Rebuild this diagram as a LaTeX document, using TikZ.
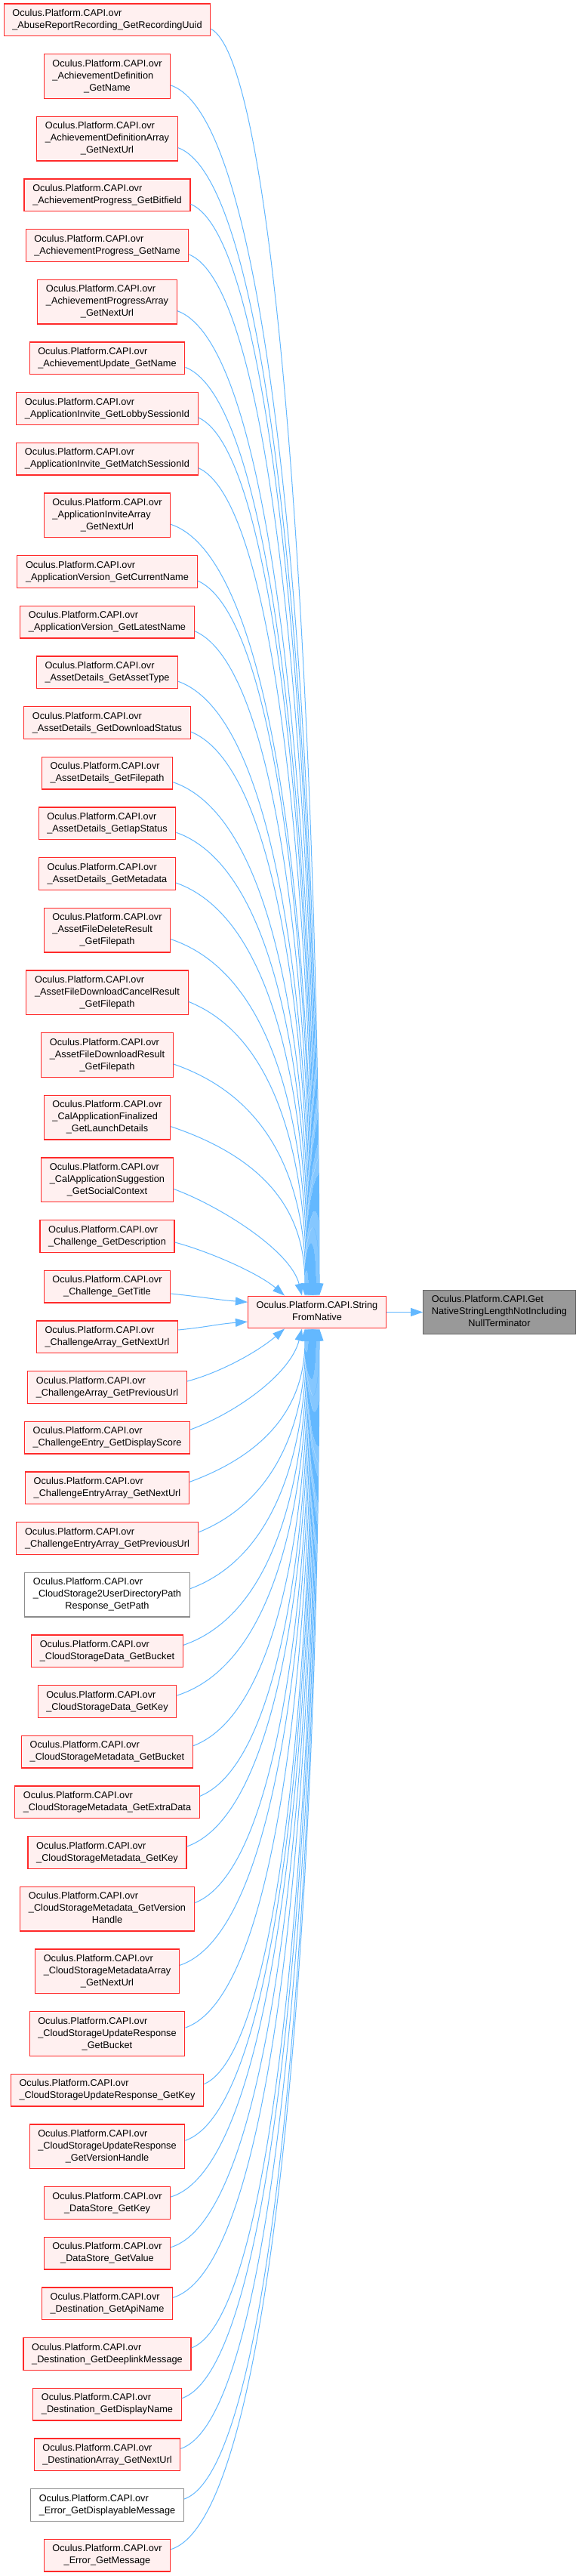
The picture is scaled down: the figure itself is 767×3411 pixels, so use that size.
\documentclass[tikz,border=0pt]{standalone}
\usepackage{fontspec}
\setmainfont{Liberation Sans}
\usetikzlibrary{arrows.meta,calc}
\definecolor{edgeblue}{HTML}{63B8FF}
\definecolor{nodefill}{HTML}{FFF0F0}
\definecolor{nodered}{HTML}{FF2A2A}
\definecolor{nodegrey}{HTML}{8C8C8C}
\definecolor{rootfill}{HTML}{999999}
\definecolor{rootline}{HTML}{666666}
\newcommand\twol[2]{\begin{tabular}{@{}l@{}}#1\\\multicolumn{1}{@{}c@{}}{#2}\end{tabular}}
\newcommand\threel[3]{\begin{tabular}{@{}l@{}}#1\\#2\\\multicolumn{1}{@{}c@{}}{#3}\end{tabular}}
\newcommand\ocp{Oculus.Platform.CAPI.ovr}
\begin{document}
\begin{tikzpicture}[x=0.75pt,y=-0.75pt,
  box/.style={draw=nodered, fill=nodefill, line width=0.9pt, inner xsep=8.4pt, inner ysep=4pt,
    font={\fontsize{9.55pt}{12pt}\selectfont}},
  greybox/.style={box, draw=nodegrey, fill=white},
  rootbox/.style={box, draw=rootline, fill=rootfill},
  edge/.style={draw=edgeblue, line width=0.75pt, -{Triangle[length=12pt,width=8.2pt]}}]
\useasboundingbox (0,0) rectangle (767,3411);
\fill[white] (0,0) rectangle (767,3411);

\node[box] (m) at (420,1737.5) {\twol{Oculus.Platform.CAPI.String}{FromNative}};
\node[rootbox] (g) at (661.5,1737.5) {\threel{Oculus.Platform.CAPI.Get}{NativeStringLengthNotIncluding}{NullTerminator}};

\node[box] (n1) at (142,26.33) {\twol{\ocp}{\_AbuseReportRecording\_GetRecordingUuid}};
\node[box] (n2) at (142,101) {\threel{\ocp}{\_AchievementDefinition}{\_GetName}};
\node[box] (n3) at (142,183.67) {\threel{\ocp}{\_AchievementDefinitionArray}{\_GetNextUrl}};
\node[box] (n4) at (142,258.33) {\twol{\ocp}{\_AchievementProgress\_GetBitfield}};
\node[box] (n5) at (142,325) {\twol{\ocp}{\_AchievementProgress\_GetName}};
\node[box] (n6) at (142,399.67) {\threel{\ocp}{\_AchievementProgressArray}{\_GetNextUrl}};
\node[box] (n7) at (142,474.33) {\twol{\ocp}{\_AchievementUpdate\_GetName}};
\node[box] (n8) at (142,541) {\twol{\ocp}{\_ApplicationInvite\_GetLobbySessionId}};
\node[box] (n9) at (142,607.67) {\twol{\ocp}{\_ApplicationInvite\_GetMatchSessionId}};
\node[box] (n10) at (142,682.33) {\threel{\ocp}{\_ApplicationInviteArray}{\_GetNextUrl}};
\node[box] (n11) at (142,757) {\twol{\ocp}{\_ApplicationVersion\_GetCurrentName}};
\node[box] (n12) at (142,823.67) {\twol{\ocp}{\_ApplicationVersion\_GetLatestName}};
\node[box] (n13) at (142,890.33) {\twol{\ocp}{\_AssetDetails\_GetAssetType}};
\node[box] (n14) at (142,957) {\twol{\ocp}{\_AssetDetails\_GetDownloadStatus}};
\node[box] (n15) at (142,1023.67) {\twol{\ocp}{\_AssetDetails\_GetFilepath}};
\node[box] (n16) at (142,1090.33) {\twol{\ocp}{\_AssetDetails\_GetIapStatus}};
\node[box] (n17) at (142,1157) {\twol{\ocp}{\_AssetDetails\_GetMetadata}};
\node[box] (n18) at (142,1231.67) {\threel{\ocp}{\_AssetFileDeleteResult}{\_GetFilepath}};
\node[box] (n19) at (142,1314.33) {\threel{\ocp}{\_AssetFileDownloadCancelResult}{\_GetFilepath}};
\node[box] (n20) at (142,1397) {\threel{\ocp}{\_AssetFileDownloadResult}{\_GetFilepath}};
\node[box] (n21) at (142,1479.67) {\threel{\ocp}{\_CalApplicationFinalized}{\_GetLaunchDetails}};
\node[box] (n22) at (142,1562.33) {\threel{\ocp}{\_CalApplicationSuggestion}{\_GetSocialContext}};
\node[box] (n23) at (142,1637) {\twol{\ocp}{\_Challenge\_GetDescription}};
\node[box] (n24) at (142,1703.67) {\twol{\ocp}{\_Challenge\_GetTitle}};
\node[box] (n25) at (142,1770.33) {\twol{\ocp}{\_ChallengeArray\_GetNextUrl}};
\node[box] (n26) at (142,1837) {\twol{\ocp}{\_ChallengeArray\_GetPreviousUrl}};
\node[box] (n27) at (142,1903.67) {\twol{\ocp}{\_ChallengeEntry\_GetDisplayScore}};
\node[box] (n28) at (142,1970.33) {\twol{\ocp}{\_ChallengeEntryArray\_GetNextUrl}};
\node[box] (n29) at (142,2037) {\twol{\ocp}{\_ChallengeEntryArray\_GetPreviousUrl}};
\node[greybox] (n30) at (142,2111.67) {\threel{\ocp}{\_CloudStorage2UserDirectoryPath}{Response\_GetPath}};
\node[box] (n31) at (142,2186.33) {\twol{\ocp}{\_CloudStorageData\_GetBucket}};
\node[box] (n32) at (142,2253) {\twol{\ocp}{\_CloudStorageData\_GetKey}};
\node[box] (n33) at (142,2319.67) {\twol{\ocp}{\_CloudStorageMetadata\_GetBucket}};
\node[box] (n34) at (142,2386.33) {\twol{\ocp}{\_CloudStorageMetadata\_GetExtraData}};
\node[box] (n35) at (142,2453) {\twol{\ocp}{\_CloudStorageMetadata\_GetKey}};
\node[box] (n36) at (142,2527.67) {\threel{\ocp}{\_CloudStorageMetadata\_GetVersion}{Handle}};
\node[box] (n37) at (142,2610.33) {\threel{\ocp}{\_CloudStorageMetadataArray}{\_GetNextUrl}};
\node[box] (n38) at (142,2693) {\threel{\ocp}{\_CloudStorageUpdateResponse}{\_GetBucket}};
\node[box] (n39) at (142,2767.67) {\twol{\ocp}{\_CloudStorageUpdateResponse\_GetKey}};
\node[box] (n40) at (142,2842.33) {\threel{\ocp}{\_CloudStorageUpdateResponse}{\_GetVersionHandle}};
\node[box] (n41) at (142,2917) {\twol{\ocp}{\_DataStore\_GetKey}};
\node[box] (n42) at (142,2983.67) {\twol{\ocp}{\_DataStore\_GetValue}};
\node[box] (n43) at (142,3050.33) {\twol{\ocp}{\_Destination\_GetApiName}};
\node[box] (n44) at (142,3117) {\twol{\ocp}{\_Destination\_GetDeeplinkMessage}};
\node[box] (n45) at (142,3183.67) {\twol{\ocp}{\_Destination\_GetDisplayName}};
\node[box] (n46) at (142,3250.33) {\twol{\ocp}{\_DestinationArray\_GetNextUrl}};
\node[greybox] (n47) at (142,3317) {\twol{\ocp}{\_Error\_GetDisplayableMessage}};
\node[box] (n48) at (142,3383.67) {\twol{\ocp}{\_Error\_GetMessage}};

% edges from nodes above, ending on top of the middle node
\foreach \k/\yy in {1/26.33, 2/101, 3/183.67, 4/258.33, 5/325, 6/399.67, 7/474.33,
  8/541, 9/607.67, 10/682.33, 11/757, 12/823.67, 13/890.33, 14/957, 15/1023.67,
  16/1090.33, 17/1157, 18/1231.67, 19/1314.33, 20/1397, 21/1479.67} {
  \pgfmathsetmacro\D{0.4*(1704.2-\yy)}
  \pgfmathsetmacro\ex{(-16+(21-\k)*0.95)*0.75}
  \draw[edge] let \p1=(n\k.east) in
    ([yshift=-9pt]n\k.east) .. controls (281.25pt,\y1-46.5pt) and +(0,-\D) .. ([xshift=\ex pt]m.north);
}
% edges from nodes below, ending on the bottom of the middle node
\foreach \k/\yy in {28/1970.33, 29/2037, 30/2111.67, 31/2186.33, 32/2253, 33/2319.67,
  34/2386.33, 35/2453, 36/2527.67, 37/2610.33, 38/2693, 39/2767.67, 40/2842.33,
  41/2917, 42/2983.67, 43/3050.33, 44/3117, 45/3183.67, 46/3250.33, 47/3317, 48/3383.67} {
  \pgfmathsetmacro\D{0.4*(\yy-1766.8)}
  \pgfmathsetmacro\ex{(-16+(\k-28)*0.95)*0.75}
  \draw[edge] let \p1=(n\k.east) in
    ([yshift=6pt]n\k.east) .. controls (281.25pt,\y1+40pt) and +(0,\D) .. ([xshift=\ex pt]m.south);
}
% nearby nodes
\draw[edge] ([yshift=-9pt]n22.east) .. controls +(60,22) and +(-15,-60) .. ([xshift=-15pt]m.north);
\draw[edge] ([yshift=-6pt]n23.east) .. controls +(45,12) and +(-35,-30) .. ([xshift=-32.25pt]m.north);
\draw[edge] ([yshift=-7pt]n24.east) .. controls +(40,4) and +(-40,-3) .. ([yshift=10pt]m.west);
\draw[edge] ([yshift=7pt]n25.east) .. controls +(40,-4) and +(-40,3) .. ([yshift=-9.5pt]m.west);
\draw[edge] ([yshift=6pt]n26.east) .. controls +(45,-12) and +(-35,30) .. ([xshift=-32.25pt]m.south);
\draw[edge] ([yshift=8pt]n27.east) .. controls +(60,-22) and +(-15,60) .. ([xshift=-15pt]m.south);

\draw[edge] (m.east) -- (g.west);
\end{tikzpicture}
\end{document}
